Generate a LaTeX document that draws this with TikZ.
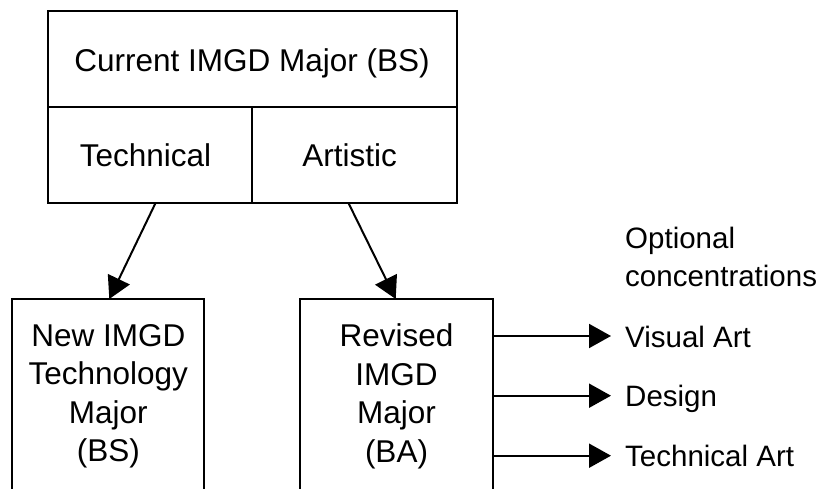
\documentclass[tikz,border=0pt]{standalone}
\usepackage{fontspec}
\setmainfont{Liberation Sans}
\usetikzlibrary{arrows.meta,calc}
\begin{document}
\begin{tikzpicture}[x=1pt,y=-1pt,
  cell/.style={draw,line width=2pt,rectangle,inner sep=0pt,outer sep=0pt},
  boxtext/.style={font=\fontsize{31.5}{38.5}\selectfont,inner sep=0pt,align=center},
  labeltext/.style={font=\fontsize{29.5}{38.4}\selectfont,inner sep=0pt,align=left},
  link/.style={line width=2pt,-{Triangle[length=22pt,width=24pt]}},
]
\useasboundingbox (0,0) rectangle (817,489);
\clip (0,0) rectangle (817,489);

% current major: title cell and its two tracks
\node[cell,minimum width=409pt,minimum height=96.6pt] (title) at (252.2,59) {};
\node[cell,minimum width=204.6pt,minimum height=95.4pt] (tech) at (150,155) {};
\node[cell,minimum width=204.4pt,minimum height=95.4pt] (art) at (354.5,155) {};
\node[boxtext,anchor=base] (titletext) at (252,71.5) {Current IMGD Major (BS)};
\node[boxtext,anchor=base] (techtext) at (145.5,166.7) {Technical};
\node[boxtext,anchor=base] (arttext) at (349.5,166.7) {Artistic};

% the two new majors (boxes run past the lower edge)
\node[cell,minimum width=192pt,minimum height=240pt,anchor=north] (newmaj) at (108,299) {};
\node[cell,minimum width=192.7pt,minimum height=240pt,anchor=north] (revmaj) at (396.3,299) {};
\node[boxtext] (newtext) at (108.3,396.4) {New IMGD\\Technology\\Major\\(BS)};
\node[boxtext] (revtext) at (396.5,396.4) {Revised\\IMGD\\Major\\(BA)};

\draw[link] ([xshift=5.7pt]tech.south) -- ([xshift=1.3pt]newmaj.north);
\draw[link] ([xshift=-6.2pt]art.south) -- ([xshift=-0.6pt]revmaj.north);

% optional concentrations
\node[labeltext,anchor=north west] (opt) at (625,226.5) {Optional\\concentrations};
\node[labeltext,anchor=base west] (visual) at (625,347.3) {Visual Art};
\node[labeltext,anchor=base west] (design) at (625,406.7) {Design};
\node[labeltext,anchor=base west] (techart) at (625,466.7) {Technical Art};

\coordinate (tipa) at (611,336);
\coordinate (tipb) at (611,395.7);
\coordinate (tipc) at (611,455.7);
\draw[link] (revmaj.east |- tipa) -- (tipa);
\draw[link] (revmaj.east |- tipb) -- (tipb);
\draw[link] (revmaj.east |- tipc) -- (tipc);
\end{tikzpicture}
\end{document}
